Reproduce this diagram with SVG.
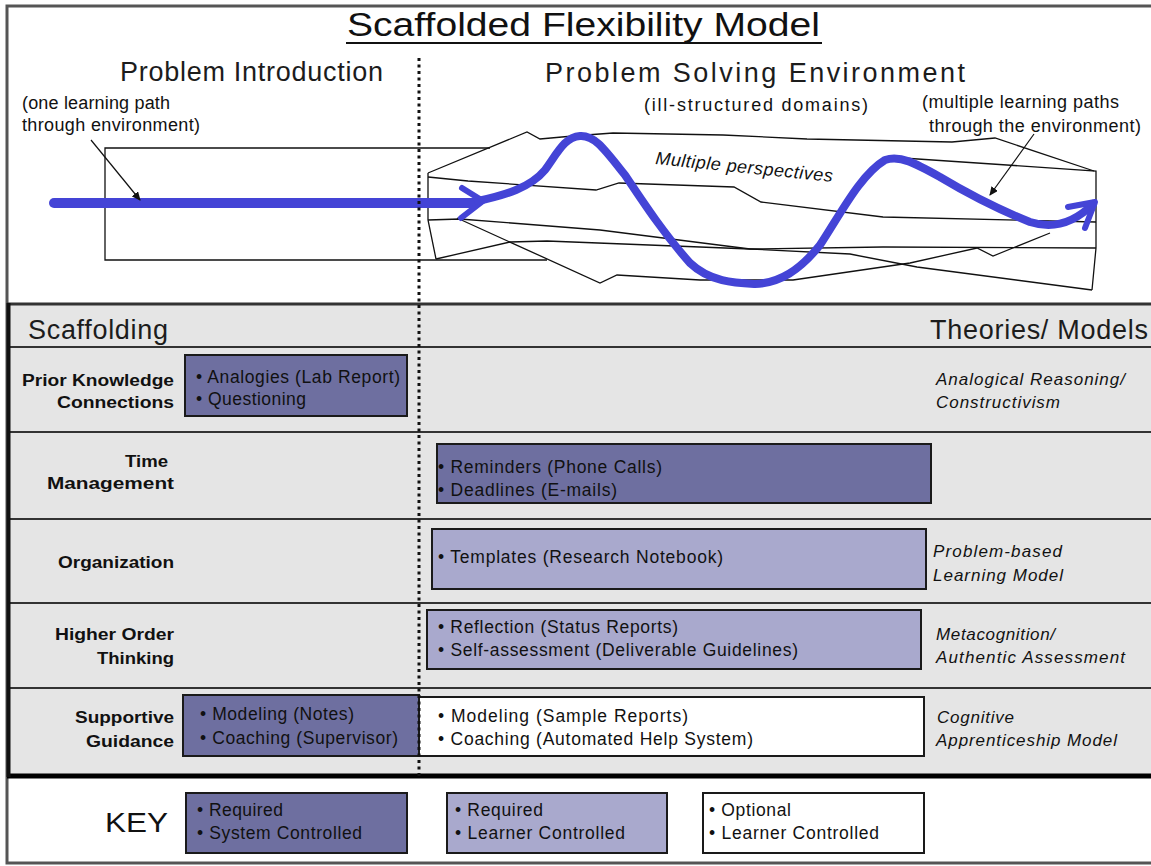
<svg xmlns="http://www.w3.org/2000/svg" width="1151" height="866" viewBox="0 0 1151 866">
  <style>
    text { font-family: "Liberation Sans", Arial, Helvetica, sans-serif; fill: #111; }
    .title { font-size: 34px; }
    .head { font-size: 27px; fill: #1c1c1c; }
    .note { font-size: 18px; }
    .lbl { font-size: 16px; font-weight: bold; text-anchor: end; }
    .item { font-size: 17.5px; }
    .theory { font-size: 17px; font-style: italic; }
    .key { font-size: 28px; }
    .rowline { stroke: #333; stroke-width: 2; }
    .sys { fill: #6e6fa0; stroke: #1a1a1a; stroke-width: 2; }
    .lrn { fill: #a9a9cd; stroke: #1a1a1a; stroke-width: 2; }
    .opt { fill: #ffffff; stroke: #1a1a1a; stroke-width: 2; }
    .env { fill: none; stroke: #111; stroke-width: 1.3; stroke-linejoin: miter; }
    .path { fill: none; stroke: #4444d6; stroke-linecap: round; stroke-linejoin: round; }
    .callout { stroke: #111; stroke-width: 1.2; fill: none; }
  </style>
  <defs>
    <marker id="tip" markerWidth="10" markerHeight="8" refX="8" refY="4" orient="auto" markerUnits="userSpaceOnUse">
      <path d="M0,0 L9,4 L0,8 z" fill="#111"/>
    </marker>
  </defs>

  <!-- page and frame -->
  <rect x="0" y="0" width="1151" height="866" fill="#ffffff"/>
  <rect x="7" y="6" width="1160" height="857" fill="#ffffff" stroke="#555" stroke-width="3"/>

  <!-- scaffolding table background and row rules -->
  <g id="table">
    <rect x="8" y="304" width="1145" height="472" fill="#e5e5e5"/>
    <line x1="7" y1="304" x2="1151" y2="304" stroke="#333" stroke-width="3"/>
    <line class="rowline" x1="8" y1="347" x2="1151" y2="347"/>
    <line class="rowline" x1="8" y1="432" x2="1151" y2="432"/>
    <line class="rowline" x1="8" y1="519" x2="1151" y2="519"/>
    <line class="rowline" x1="8" y1="603" x2="1151" y2="603"/>
    <line class="rowline" x1="8" y1="688" x2="1151" y2="688"/>
    <line x1="7" y1="776" x2="1151" y2="776" stroke="#000" stroke-width="5"/>
    <line x1="8.5" y1="303" x2="8.5" y2="777" stroke="#111" stroke-width="4"/>
  </g>

  <!-- title and section headings -->
  <g id="title">
    <text class="title" x="347" y="36" textLength="473" lengthAdjust="spacingAndGlyphs">Scaffolded Flexibility Model</text>
    <line x1="346" y1="43" x2="822" y2="43" stroke="#111" stroke-width="2"/>
  </g>
  <g id="intro-heading">
    <text class="head" x="120" y="81" textLength="263" lengthAdjust="spacing">Problem Introduction</text>
    <text class="note" x="22" y="109" textLength="148" lengthAdjust="spacing">(one learning path</text>
    <text class="note" x="22" y="131" textLength="178" lengthAdjust="spacing">through environment)</text>
  </g>
  <g id="environment-heading">
    <text class="head" x="545" y="82" textLength="420" lengthAdjust="spacing">Problem Solving Environment</text>
    <text class="note" x="644" y="111" font-size="20" textLength="224" lengthAdjust="spacing">(ill-structured domains)</text>
    <text class="note" x="922" y="108" textLength="197" lengthAdjust="spacing">(multiple learning paths</text>
    <text class="note" x="929" y="132" textLength="212" lengthAdjust="spacing">through the environment)</text>
  </g>

  <!-- single-path introduction area -->
  <g id="intro-area">
    <polyline class="env" points="490,148 105,148 105,260 547,260"/>
  </g>

  <!-- ill-structured environment: overlapping jagged strands -->
  <g id="environment">
    <polyline class="env" points="428,173 527,132 540,139 573,136 613,133 723,135 807,139 952,142 995,138 1094,171"/>
    <polyline class="env" points="888,157 1096,171 1096,248 1092,290"/>
    <polyline class="env" points="428,173 428,220 436,259"/>
    <polyline class="env" points="428,177 468,181 596,190 619,183 734,187 761,202 883,217 1096,222"/>
    <polyline class="env" points="428,220 460,219 600,230 750,249 883,247 1096,248"/>
    <polyline class="env" points="457,218 600,283 617,275 700,280 793,280 910,263 977,248 993,256 1050,233"/>
    <polyline class="env" points="436,259 510,242 547,241 700,247 750,249 850,254 917,267 1092,290"/>
    <text class="note" x="655" y="164" font-size="16" font-style="italic" transform="rotate(5.8 655 164)" textLength="178" lengthAdjust="spacing">Multiple perspectives</text>
  </g>

  <!-- learning paths -->
  <g id="connectors">
    <line class="path" x1="54" y1="203" x2="474" y2="203" stroke-width="10" stroke-linecap="butt"/>
    <polyline class="path" points="462,188 483,201 461,218" stroke-width="6"/>
    <path class="path" stroke-width="8" d="M478,201 C505,195 530,188 545,170 C558,152 565,137 580,136 C595,135 605,150 625,175 C645,205 665,235 690,263 C710,282 735,283 755,284 C780,283 800,270 820,245 C840,215 860,175 885,160 C900,155 915,163 940,177 C970,195 1000,210 1030,222 C1055,230 1075,222 1093,204"/>
    <polyline class="path" points="1068,207 1095,202 1085,228" stroke-width="6"/>
    <line class="callout" x1="91" y1="140" x2="140" y2="200" marker-end="url(#tip)"/>
    <line class="callout" x1="1034" y1="134" x2="990" y2="195" marker-end="url(#tip)"/>
  </g>

  <!-- table headings -->
  <g id="table-headings">
    <text class="head" x="28" y="339" font-size="26" textLength="140" lengthAdjust="spacing">Scaffolding</text>
    <text class="head" x="930" y="339" textLength="218" lengthAdjust="spacing">Theories/ Models</text>
  </g>

  <!-- scaffolding rows -->
  <g id="row-prior-knowledge">
    <text class="lbl" x="174" y="386" textLength="152" lengthAdjust="spacingAndGlyphs">Prior Knowledge</text>
    <text class="lbl" x="174" y="408" textLength="117" lengthAdjust="spacingAndGlyphs">Connections</text>
    <rect class="sys" x="185" y="355" width="222" height="61"/>
    <text class="item" x="196" y="383" textLength="204" lengthAdjust="spacing">• Analogies (Lab Report)</text>
    <text class="item" x="196" y="405" textLength="110" lengthAdjust="spacing">• Questioning</text>
    <text class="theory" x="936" y="385" textLength="189" lengthAdjust="spacing">Analogical Reasoning/</text>
    <text class="theory" x="936" y="408" textLength="124" lengthAdjust="spacing">Constructivism</text>
  </g>

  <g id="row-time-management">
    <text class="lbl" x="168" y="467" textLength="43" lengthAdjust="spacingAndGlyphs">Time</text>
    <text class="lbl" x="174" y="489" textLength="127" lengthAdjust="spacingAndGlyphs">Management</text>
    <rect class="sys" x="437" y="444" width="494" height="59"/>
    <text class="item" x="438" y="473" textLength="224" lengthAdjust="spacing">• Reminders (Phone Calls)</text>
    <text class="item" x="438" y="496" textLength="179" lengthAdjust="spacing">• Deadlines (E-mails)</text>
  </g>

  <g id="row-organization">
    <text class="lbl" x="174" y="568" textLength="116" lengthAdjust="spacingAndGlyphs">Organization</text>
    <rect class="lrn" x="432" y="529" width="494" height="60"/>
    <text class="item" x="438" y="563" textLength="285" lengthAdjust="spacing">• Templates (Research Notebook)</text>
    <text class="theory" x="933" y="557" textLength="129" lengthAdjust="spacing">Problem-based</text>
    <text class="theory" x="933" y="581" textLength="130" lengthAdjust="spacing">Learning Model</text>
  </g>

  <g id="row-higher-order">
    <text class="lbl" x="174" y="640" textLength="119" lengthAdjust="spacingAndGlyphs">Higher Order</text>
    <text class="lbl" x="174" y="664" textLength="77" lengthAdjust="spacingAndGlyphs">Thinking</text>
    <rect class="lrn" x="427" y="610" width="494" height="59"/>
    <text class="item" x="438" y="633" textLength="240" lengthAdjust="spacing">• Reflection (Status Reports)</text>
    <text class="item" x="438" y="656" textLength="360" lengthAdjust="spacing">• Self-assessment (Deliverable Guidelines)</text>
    <text class="theory" x="936" y="640" textLength="119" lengthAdjust="spacing">Metacognition/</text>
    <text class="theory" x="936" y="663" textLength="189" lengthAdjust="spacing">Authentic Assessment</text>
  </g>

  <g id="row-supportive-guidance">
    <text class="lbl" x="174" y="723" textLength="99" lengthAdjust="spacingAndGlyphs">Supportive</text>
    <text class="lbl" x="174" y="747" textLength="88" lengthAdjust="spacingAndGlyphs">Guidance</text>
    <rect class="opt" x="419" y="697" width="505" height="59"/>
    <rect class="sys" x="183" y="695" width="236" height="61"/>
    <text class="item" x="200" y="720" textLength="154" lengthAdjust="spacing">• Modeling (Notes)</text>
    <text class="item" x="200" y="744" textLength="198" lengthAdjust="spacing">• Coaching (Supervisor)</text>
    <text class="item" x="438" y="722" textLength="250" lengthAdjust="spacing">• Modeling  (Sample Reports)</text>
    <text class="item" x="438" y="745" textLength="315" lengthAdjust="spacing">• Coaching (Automated Help System)</text>
    <text class="theory" x="937" y="723" textLength="77" lengthAdjust="spacing">Cognitive</text>
    <text class="theory" x="936" y="746" textLength="181" lengthAdjust="spacing">Apprenticeship Model</text>
  </g>

  <!-- phase divider -->
  <g id="divider">
    <line x1="419" y1="58" x2="419" y2="776" stroke="#111" stroke-width="3" stroke-dasharray="3 3.5"/>
  </g>

  <!-- key -->
  <g id="key">
    <text class="key" x="105" y="832" textLength="63" lengthAdjust="spacingAndGlyphs">KEY</text>
  </g>
  <g id="key-system">
    <rect class="sys" x="186" y="793" width="221" height="60"/>
    <text class="item" x="197" y="816" textLength="86" lengthAdjust="spacing">• Required</text>
    <text class="item" x="197" y="839" textLength="165" lengthAdjust="spacing">• System Controlled</text>
  </g>
  <g id="key-learner">
    <rect class="lrn" x="447" y="793" width="220" height="60"/>
    <text class="item" x="455" y="816" textLength="88" lengthAdjust="spacing">• Required</text>
    <text class="item" x="455" y="839" textLength="170" lengthAdjust="spacing">• Learner Controlled</text>
  </g>
  <g id="key-optional">
    <rect class="opt" x="703" y="793" width="221" height="60"/>
    <text class="item" x="709" y="816" textLength="82" lengthAdjust="spacing">• Optional</text>
    <text class="item" x="709" y="839" textLength="170" lengthAdjust="spacing">• Learner Controlled</text>
  </g>
</svg>
